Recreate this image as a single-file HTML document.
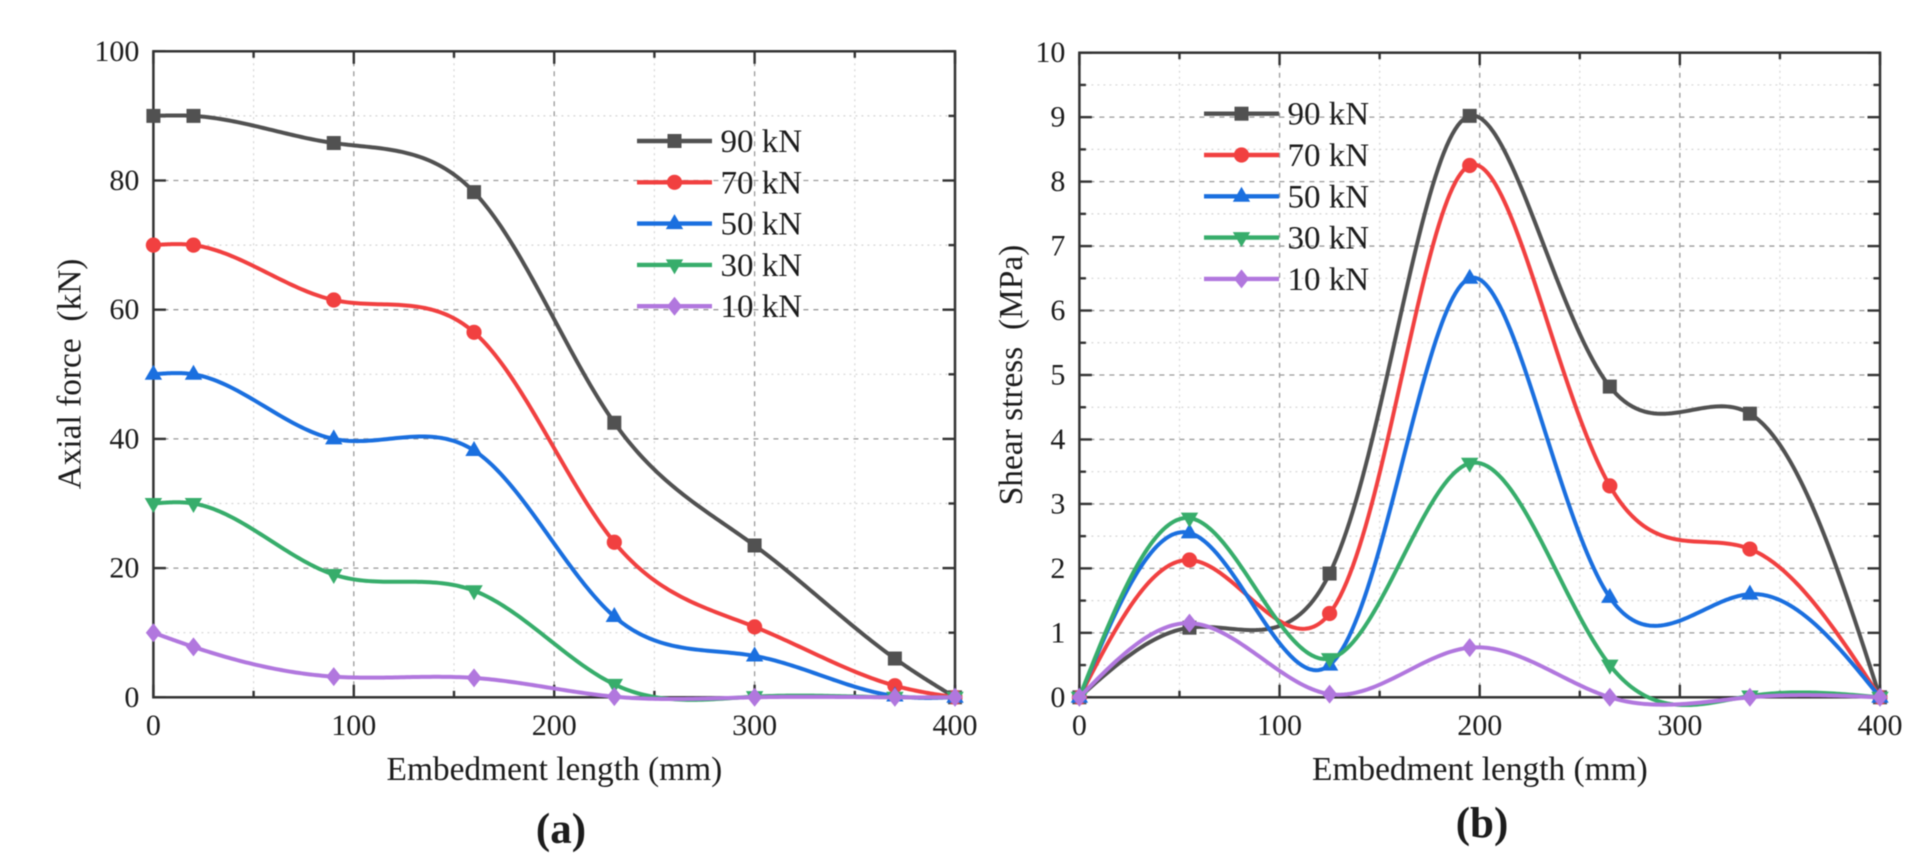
<!DOCTYPE html>
<html lang="en">
<head>
<meta charset="utf-8">
<title>Axial force and shear stress versus embedment length</title>
<style>
html,body{margin:0;padding:0;background:#fff;width:1930px;height:862px;overflow:hidden}
svg{display:block;filter:blur(.65px)}
text{font-family:"Liberation Serif","Times New Roman",serif;fill:#1c1c1c;white-space:pre}
</style>
</head>
<body>
<svg id="figure" xmlns="http://www.w3.org/2000/svg" width="1930" height="862" viewBox="0 0 1930 862"></svg>
<script>
// ---- Data: panel (a) ----
const axialLengths = [0, 20, 90, 160, 230, 300, 370, 400];
const axial90 = [90, 90, 85.8, 78.2, 42.5, 23.5, 6, 0];
const axial70 = [70, 70, 61.5, 56.5, 24, 10.9, 1.8, 0];
const axial50 = [50, 50, 40, 38.2, 12.5, 6.4, 0.2, 0];
const axial30 = [30, 30, 19, 16.5, 2, 0.1, 0, 0];
const axial10 = [10, 7.8, 3.2, 3, 0.1, 0, 0, 0];
// ---- Data: panel (b) ----
const shearLengths = [0, 55, 125, 195, 265, 335, 400];
const shear90 = [0, 1.08, 1.92, 9.02, 4.82, 4.4, 0];
const shear70 = [0, 2.13, 1.3, 8.25, 3.28, 2.3, 0];
const shear50 = [0, 2.55, 0.5, 6.5, 1.55, 1.6, 0];
const shear30 = [0, 2.78, 0.6, 3.63, 0.5, 0.02, 0];
const shear10 = [0, 1.15, 0.05, 0.77, 0, 0, 0];
// ---- Labels and ticks ----
const seriesLabels = ['90 kN', '70 kN', '50 kN', '30 kN', '10 kN'];
const seriesSlugs = ['90kn', '70kn', '50kn', '30kn', '10kn'];
const xTickLabels = [0, 100, 200, 300, 400];
const xMinorTicks = [50, 150, 250, 350];
const axialTickLabels = [0, 20, 40, 60, 80, 100];
const axialMinorTicks = [10, 30, 50, 70, 90];
const shearTickLabels = [0, 1, 2, 3, 4, 5, 6, 7, 8, 9, 10];
const shearMinorTicks = [0.5, 1.5, 2.5, 3.5, 4.5, 5.5, 6.5, 7.5, 8.5, 9.5];

const seriesColors = ['#515151', '#f14040', '#1a6fdf', '#37ad6b', '#b177de'];
const markerKinds = ['square', 'circle', 'up', 'down', 'diamond'];
const NS = 'http://www.w3.org/2000/svg';
const figure = document.getElementById('figure');
// vertical weight of the chord length used to parameterise the curves
const CHORD_Y_WEIGHT = 0.28;

function make(parent, tag) {
  const el = document.createElementNS(NS, tag);
  parent.appendChild(el);
  return el;
}

function setAll(el, props) {
  for (const k in props) el.setAttribute(k, props[k]);
  return el;
}

// natural cubic spline through the points, returned as an interpolating function
function spline(xs, ys) {
  const n = xs.length;
  const m = new Array(n).fill(0);
  const c = new Array(n).fill(0);
  const d = new Array(n).fill(0);
  for (let i = 1; i < n - 1; i++) {
    const h0 = xs[i] - xs[i - 1];
    const h1 = xs[i + 1] - xs[i];
    const r = 6 * ((ys[i + 1] - ys[i]) / h1 - (ys[i] - ys[i - 1]) / h0);
    const den = 2 * (h0 + h1) - h0 * c[i - 1];
    c[i] = h1 / den;
    d[i] = (r - h0 * d[i - 1]) / den;
  }
  for (let i = n - 2; i > 0; i--) m[i] = d[i] - c[i] * m[i + 1];
  return function (x) {
    let i = 0;
    while (i < n - 2 && x > xs[i + 1]) i++;
    const h = xs[i + 1] - xs[i];
    const a = (xs[i + 1] - x) / h;
    const b = (x - xs[i]) / h;
    return a * ys[i] + b * ys[i + 1] + ((a * a * a - a) * m[i] + (b * b * b - b) * m[i + 1]) * h * h / 6;
  };
}

// parametric spline in pixel space, parameterised by weighted chord length
function curvePoints(px, py) {
  const t = [0];
  for (let i = 1; i < px.length; i++) {
    const chord = Math.hypot(px[i] - px[i - 1], (py[i] - py[i - 1]) * CHORD_Y_WEIGHT);
    t.push(t[i - 1] + Math.max(chord, 1e-3));
  }
  const fx = spline(t, px);
  const fy = spline(t, py);
  const out = [];
  for (let i = 0; i < t.length - 1; i++) {
    for (let k = 0; k < 48; k++) {
      const u = t[i] + (t[i + 1] - t[i]) * k / 48;
      out.push(fx(u).toFixed(2) + ',' + fy(u).toFixed(2));
    }
  }
  out.push(px[px.length - 1].toFixed(2) + ',' + py[py.length - 1].toFixed(2));
  return out.join(' ');
}

function drawMarker(parent, kind, cx, cy, color, name) {
  let el;
  if (kind === 'square') {
    el = setAll(make(parent, 'rect'), {x: cx - 7, y: cy - 7, width: 14, height: 14});
  } else if (kind === 'circle') {
    el = setAll(make(parent, 'circle'), {cx: cx, cy: cy, r: 7.6});
  } else if (kind === 'up') {
    el = setAll(make(parent, 'polygon'), {points: [cx, cy - 9.5, cx + 8.7, cy + 5.5, cx - 8.7, cy + 5.5].join(' ')});
  } else if (kind === 'down') {
    el = setAll(make(parent, 'polygon'), {points: [cx, cy + 9.5, cx + 8.7, cy - 5.5, cx - 8.7, cy - 5.5].join(' ')});
  } else {
    el = setAll(make(parent, 'polygon'), {points: [cx, cy - 9.5, cx + 7.6, cy, cx, cy + 9.5, cx - 7.6, cy].join(' ')});
  }
  el.setAttribute('fill', color);
  
  
}

function drawPanel(p) {
  const g = make(figure, 'g');
  
  
  const sx = v => p.left + (v - 0) / 400 * (p.right - p.left);
  const sy = v => p.bottom - v / p.yMax * (p.bottom - p.top);

  // grid
  const grid = make(g, 'g');
  
  
  function gridLine(x1, y1, x2, y2, major) {
    const l = setAll(make(grid, 'line'), {x1: x1, y1: y1, x2: x2, y2: y2,
      stroke: major ? '#9a9a9a' : '#d6d6d6', 'stroke-width': major ? 1.3 : 1.2,
      'stroke-dasharray': major ? '5 5' : '2 4'});
    
    
  }
  xMinorTicks.forEach(v => gridLine(sx(v), p.top, sx(v), p.bottom, false));
  p.yMinor.forEach(v => gridLine(p.left, sy(v), p.right, sy(v), false));
  xTickLabels.slice(1, -1).forEach(v => gridLine(sx(v), p.top, sx(v), p.bottom, true));
  p.yTicks.slice(1, -1).forEach(v => gridLine(p.left, sy(v), p.right, sy(v), true));

  // ticks on all four sides
  const ticks = make(g, 'g');
  
  
  function tick(x1, y1, x2, y2) {
    const l = setAll(make(ticks, 'line'), {x1: x1, y1: y1, x2: x2, y2: y2, stroke: '#333', 'stroke-width': 2.4});
    
    
  }
  const MAJ = 12.5, MIN = 6.5;
  xTickLabels.forEach(v => { tick(sx(v), p.bottom, sx(v), p.bottom - MAJ); tick(sx(v), p.top, sx(v), p.top + MAJ); });
  xMinorTicks.forEach(v => { tick(sx(v), p.bottom, sx(v), p.bottom - MIN); tick(sx(v), p.top, sx(v), p.top + MIN); });
  p.yTicks.forEach(v => { tick(p.left, sy(v), p.left + MAJ, sy(v)); tick(p.right, sy(v), p.right - MAJ, sy(v)); });
  p.yMinor.forEach(v => { tick(p.left, sy(v), p.left + MIN, sy(v)); tick(p.right, sy(v), p.right - MIN, sy(v)); });

  // frame
  const frame = setAll(make(g, 'rect'), {x: p.left, y: p.top, width: p.right - p.left, height: p.bottom - p.top,
    fill: 'none', stroke: '#333', 'stroke-width': 2.5});
  
  

  // tick labels
  xTickLabels.forEach(v => {
    const t = setAll(make(g, 'text'), {x: sx(v), y: 735, 'text-anchor': 'middle', 'font-size': 30});
    t.textContent = v;
    
    
  });
  p.yTicks.forEach(v => {
    const t = setAll(make(g, 'text'), {x: p.left - 14, y: sy(v) + 9.5, 'text-anchor': 'end', 'font-size': 30});
    t.textContent = v;
    
    
  });

  // axis titles
  const xt = setAll(make(g, 'text'), {x: (p.left + p.right) / 2 + 0.2, y: 780, 'text-anchor': 'middle', 'font-size': 33.4});
  xt.textContent = 'Embedment length (mm)';
  
  
  const yt = setAll(make(g, 'text'), {x: 0, y: 0, 'text-anchor': 'middle', 'font-size': 33.4,
    transform: 'translate(' + p.yTitleX + ' ' + p.yTitleY + ') rotate(-90)'});
  yt.textContent = p.yTitle;
  
  

  // series
  p.series.forEach((vals, i) => {
    const s = make(g, 'g');
    
    
    const px = p.xs.map(sx);
    const py = vals.map(sy);
    const line = setAll(make(s, 'polyline'), {points: curvePoints(px, py), fill: 'none', stroke: seriesColors[i],
      'stroke-width': 4, 'stroke-linejoin': 'round', 'stroke-linecap': 'round'});
    
    
    vals.forEach((v, k) => drawMarker(s, markerKinds[i], sx(p.xs[k]), sy(v), seriesColors[i], 'point-' + seriesSlugs[i]));
  });

  // legend
  const lg = make(g, 'g');
  
  
  seriesLabels.forEach((label, i) => {
    const e = make(lg, 'g');
    
    
    const y = p.legendY + i * 41.3;
    const l = setAll(make(e, 'line'), {x1: p.legendX, y1: y, x2: p.legendX + 75, y2: y, stroke: seriesColors[i], 'stroke-width': 4.4});
    
    
    drawMarker(e, markerKinds[i], p.legendX + 37.5, y, seriesColors[i], 'legend-marker');
    const t = setAll(make(e, 'text'), {x: p.legendX + 83.5, y: y + 11, 'font-size': 33});
    t.textContent = label;
    
    
  });

  // panel letter
  const c = setAll(make(g, 'text'), {x: p.letterX, y: p.letterY, 'text-anchor': 'middle', 'font-size': 43, 'font-weight': 'bold'});
  c.textContent = p.letter;
  
  
}

drawPanel({id: 'axial-force', left: 153.4, right: 955, top: 51.3, bottom: 697.3, yMax: 100,
  xs: axialLengths, series: [axial90, axial70, axial50, axial30, axial10],
  yTicks: axialTickLabels, yMinor: axialMinorTicks,
  yTitle: 'Axial force  (kN)', yTitleX: 80.7, yTitleY: 374,
  legendX: 637, legendY: 141, letter: '(a)', letterX: 561, letterY: 843});

drawPanel({id: 'shear-stress', left: 1079.4, right: 1880, top: 52.7, bottom: 697.3, yMax: 10,
  xs: shearLengths, series: [shear90, shear70, shear50, shear30, shear10],
  yTicks: shearTickLabels, yMinor: shearMinorTicks,
  yTitle: 'Shear stress  (MPa)', yTitleX: 1022, yTitleY: 375,
  legendX: 1204, legendY: 113.7, letter: '(b)', letterX: 1482, letterY: 837});
</script>
</body>
</html>
